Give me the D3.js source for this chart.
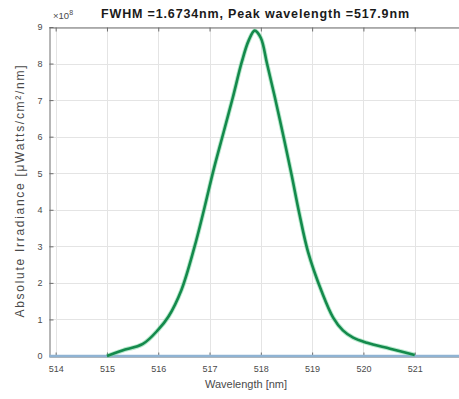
<!DOCTYPE html>
<html>
<head>
<meta charset="utf-8">
<script src="https://cdn.jsdelivr.net/npm/d3@7"></script>
<style>
  html, body { margin: 0; padding: 0; background: #fff; }
  svg { display: block; font-family: "Liberation Sans", Arial, sans-serif; }
</style>
</head>
<body>
<svg id="chart" width="459" height="399"></svg>
<script>
// Spectrum of the emission line (irradiance in units of 10^8)
const wavelength = [515.0, 515.3, 515.7, 516.0, 516.2, 516.45, 516.7, 516.9, 517.08, 517.27,
                    517.45, 517.63, 517.76, 517.88, 518.0, 518.12, 518.27, 518.45, 518.6, 518.75,
                    518.92, 519.19, 519.41, 519.6, 519.8, 520.07, 520.52, 521.0];
const irradiance = [0.0, 0.15, 0.33, 0.72, 1.08, 1.8, 2.95, 4.05, 5.1, 6.1,
                    7.05, 8.05, 8.62, 8.9, 8.7, 8.0, 7.1, 5.95, 4.95, 3.9,
                    2.85, 1.75, 1.05, 0.7, 0.5, 0.36, 0.2, 0.03];
// Raw baseline trace across the full window
const baseWavelength = [513.87, 515.0, 521.0, 522.0];
const baseIrradiance = [0, 0, 0, 0];

const xTicks = [514, 515, 516, 517, 518, 519, 520, 521];
const yTicks = [0, 1, 2, 3, 4, 5, 6, 7, 8, 9];
const exponent = 8;
const titleText = "FWHM =1.6734nm, Peak wavelength =517.9nm";
const xLabel = "Wavelength [nm]";
const yLabel = "Absolute Irradiance [\u03bcWatts/cm\u00b2/nm]";

const svg = d3.select("#chart");
const m = { left: 49, top: 27, right: 466, bottom: 356 };

const x = d3.scaleLinear().domain([513.87, 522.0]).range([m.left, m.right]);
const y = d3.scaleLinear().domain([0, 9]).range([m.bottom, m.top]);

// grid
const grid = svg.append("g").attr("stroke", "#e4e4e4").attr("stroke-width", 1);
grid.selectAll(".gx").data(xTicks).join("line")
  .attr("x1", d => Math.round(x(d)) + 0.5).attr("x2", d => Math.round(x(d)) + 0.5)
  .attr("y1", m.top).attr("y2", m.bottom);
grid.selectAll(".gy").data(yTicks).join("line")
  .attr("y1", d => Math.round(y(d)) + 0.5).attr("y2", d => Math.round(y(d)) + 0.5)
  .attr("x1", m.left).attr("x2", m.right);

// axes
const axisColor = "#6e6e6e";
const textColor = "#4a4a4a";
const xAxis = svg.append("g").attr("transform", `translate(0,${m.bottom + 0.5})`)
  .call(d3.axisBottom(x).tickValues(xTicks).tickSizeInner(-4).tickSizeOuter(0).tickPadding(9).tickFormat(d3.format("d")));
const xTop = svg.append("g").attr("transform", `translate(0,${m.top + 0.5})`)
  .call(d3.axisTop(x).tickValues(xTicks).tickSizeInner(-4).tickSizeOuter(0).tickFormat(""));
const yAxis = svg.append("g").attr("transform", `translate(${m.left + 0.5},0)`)
  .call(d3.axisLeft(y).tickValues(yTicks).tickSizeInner(-4).tickSizeOuter(0).tickPadding(7).tickFormat(d3.format("d")));

[xAxis, xTop, yAxis].forEach(g => {
  g.select(".domain").attr("stroke", axisColor);
  g.selectAll(".tick line").attr("stroke", axisColor);
  g.selectAll(".tick text").attr("fill", textColor).attr("font-size", 9)
    .attr("font-family", "Liberation Sans, Arial, sans-serif");
});

// exponent label
const ex = svg.append("text").attr("x", m.left + 4).attr("y", 19)
  .attr("fill", textColor).attr("font-size", 9.5);
ex.append("tspan").text("\u00d710");
ex.append("tspan").attr("dy", -4).attr("font-size", 7).text(exponent);

// baseline trace
const line = d3.line().x(d => x(d[0])).y(d => y(d[1]));
svg.append("path")
  .datum(d3.zip(baseWavelength, baseIrradiance))
  .attr("fill", "none").attr("stroke", "#8fb3d3").attr("stroke-width", 2.5)
  .attr("d", line);

// spectrum
const smooth = d3.line().x(d => x(d[0])).y(d => y(d[1])).curve(d3.curveCatmullRom.alpha(0.5));
svg.append("path")
  .datum(d3.zip(wavelength, irradiance))
  .attr("fill", "none").attr("stroke", "#6fd29a").attr("stroke-width", 4.5)
  .attr("stroke-opacity", 0.5).attr("stroke-linejoin", "round")
  .attr("d", smooth);
svg.append("path")
  .datum(d3.zip(wavelength, irradiance))
  .attr("fill", "none").attr("stroke", "#148a4c").attr("stroke-width", 2.6)
  .attr("stroke-linejoin", "round")
  .attr("d", smooth);

// title and labels
svg.append("text").attr("x", 255).attr("y", 18).attr("text-anchor", "middle")
  .attr("font-size", 12.5).attr("font-weight", "bold").attr("fill", "#1a1a1a")
  .attr("textLength", 308).attr("lengthAdjust", "spacing").text(titleText);
svg.append("text").attr("x", 246).attr("y", 388).attr("text-anchor", "middle")
  .attr("font-size", 11).attr("fill", textColor).text(xLabel);
svg.append("text").attr("transform", `translate(24,${(m.top + m.bottom) / 2}) rotate(-90)`)
  .attr("text-anchor", "middle").attr("font-size", 12).attr("fill", textColor)
  .attr("textLength", 252).attr("lengthAdjust", "spacing").text(yLabel);
</script>
</body>
</html>
